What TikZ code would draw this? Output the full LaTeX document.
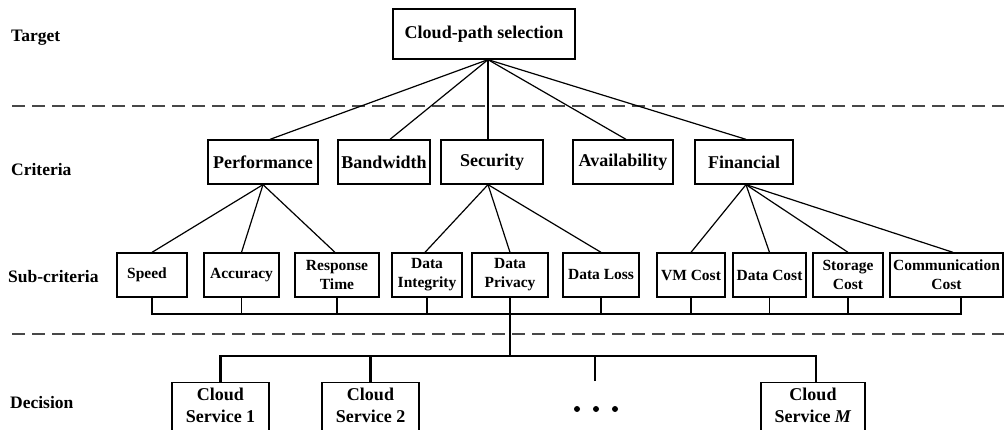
\documentclass[tikz,border=0pt]{standalone}
\usepackage{fontspec}
\setmainfont{Liberation Serif}
\begin{document}
\begin{tikzpicture}[x=1pt,y=-1pt,
  box/.style={draw, line width=1.3pt, inner sep=0pt, align=center, font=\bfseries\fontsize{18}{22}\selectfont},
  crit/.style={box, minimum height=44pt},
  sub/.style={box, minimum height=44pt, font=\bfseries\fontsize{15.5}{19}\selectfont},
  csbox/.style={draw, line width=1.3pt, inner sep=0pt, minimum height=60pt, anchor=north},
  cstext/.style={anchor=north, yshift=-6pt, inner sep=0pt, align=center, font=\bfseries\fontsize{18}{22}\selectfont},
  lvl/.style={anchor=base west, inner sep=0pt, font=\bfseries\fontsize{17.5}{21}\selectfont},
  link/.style={line width=1.2pt},
  dlink/.style={line width=2.4pt},
  sep/.style={line width=2pt, draw=black!72, dash pattern=on 13pt off 7pt}]
\useasboundingbox (0,0) rectangle (1004,430);
\clip (0,0) rectangle (1004,430);

% level labels
\node[lvl] (lt) at (11,41.5) {Target};
\node[lvl] (lc) at (11,175.5) {Criteria};
\node[lvl] (ls) at (8,282.5) {Sub-criteria};
\node[lvl] (ld) at (10,408.5) {Decision};

% separators
\coordinate (s1a) at (12,106); \coordinate (s1b) at (1004,106);
\coordinate (s2a) at (12,334); \coordinate (s2b) at (1004,334);
\draw[sep] (s1a) -- (s1b);
\draw[sep] (s2a) -- (s2b);

% target
\node[box, minimum width=182pt, minimum height=50pt] (root) at (484,34) {Cloud-path selection};

% criteria
\node[crit, minimum width=110pt] (perf) at (263,162) {Performance};
\node[crit, minimum width=92pt] (band) at (384,162) {Bandwidth};
\node[crit, minimum width=102pt] (sec) at (492,162) {Security};
\node[crit, minimum width=100pt] (avail) at (623,162) {Availability};
\node[crit, minimum width=98pt] (fin) at (744,162) {Financial};

% sub-criteria
\node[sub, minimum width=70pt] (speed) at (152,275) {Speed\hspace{10pt}};
\node[sub, minimum width=75pt] (acc) at (241.5,275) {Accuracy};
\node[sub, minimum width=84pt] (resp) at (337,275) {Response\\Time};
\node[sub, minimum width=70pt] (di) at (427,275) {Data\\Integrity};
\node[sub, minimum width=76pt] (dp) at (510,275) {Data\\Privacy};
\node[sub, minimum width=76pt] (dl) at (601,275) {Data Loss};
\node[sub, minimum width=68pt] (vm) at (691,275) {VM Cost};
\node[sub, minimum width=73pt] (dc) at (769.5,275) {Data Cost};
\node[sub, minimum width=70pt] (sc) at (848,275) {Storage\\Cost};
\node[sub, minimum width=113pt] (comm) at (946.5,275) {Communication\\Cost};

% target -> criteria
\coordinate (apex) at ([xshift=4pt]root.south);
\draw[link] (apex) -- ([xshift=7pt]perf.north);
\draw[link] (apex) -- ([xshift=6pt]band.north);
\draw[link] (apex) -- ([xshift=-4pt]sec.north);
\draw[link] (apex) -- ([xshift=3pt]avail.north);
\draw[link] (apex) -- ([xshift=2pt]fin.north);

% criteria -> sub-criteria
\draw[link] (perf.south) -- (speed.north);
\draw[link] (perf.south) -- (acc.north);
\draw[link] (perf.south) -- ([xshift=-2pt]resp.north);
\coordinate (secb) at ([xshift=-4pt]sec.south);
\draw[link] (secb) -- ([xshift=-2pt]di.north);
\draw[link] (secb) -- (dp.north);
\draw[link] (secb) -- (dl.north);
\coordinate (finb) at ([xshift=2pt]fin.south);
\draw[link] (finb) -- (vm.north);
\draw[link] (finb) -- (dc.north);
\draw[link] (finb) -- (sc.north);
\draw[link] (finb) -- ([xshift=6.5pt]comm.north);

% bus
\coordinate (busy) at (0,314);
\coordinate (commb) at ([xshift=14.5pt]comm.south);
\draw[link] (speed.south) |- (commb |- busy) -- (commb);
\foreach \n in {acc,resp,di,dp,dl,vm,dc,sc}
  \draw[link] (\n.south) -- (\n.south |- busy);

% decision
\node[csbox, minimum width=97pt,
  label={[cstext, name=cs1t]north:{Cloud\\Service 1}}] (cs1) at (220.5,382) {};
\node[csbox, minimum width=97pt,
  label={[cstext, name=cs2t]north:{Cloud\\Service 2}}] (cs2) at (370.5,382) {};
\node[csbox, minimum width=104pt,
  label={[cstext, name=csmt]north:{Cloud\\Service \textit{M}}}] (csm) at (813,382) {};

\coordinate (dbus) at (0,356);
\coordinate (dtop) at (595,381);
\coordinate (csmtop) at ([xshift=3pt]csm.north);
\draw[dlink] (dp.south |- busy) -- (dp.south |- dbus);
\draw[dlink] (cs1.north) -- (cs1.north |- dbus) -- (csmtop |- dbus) -- (csmtop);
\draw[dlink] (cs2.north) -- (cs2.north |- dbus);
\draw[dlink] (dtop) -- (dtop |- dbus);

% dots
\fill (577,409) circle (3pt);
\fill (596,409) circle (3pt);
\fill (615,409) circle (3pt);
\end{tikzpicture}
\end{document}
